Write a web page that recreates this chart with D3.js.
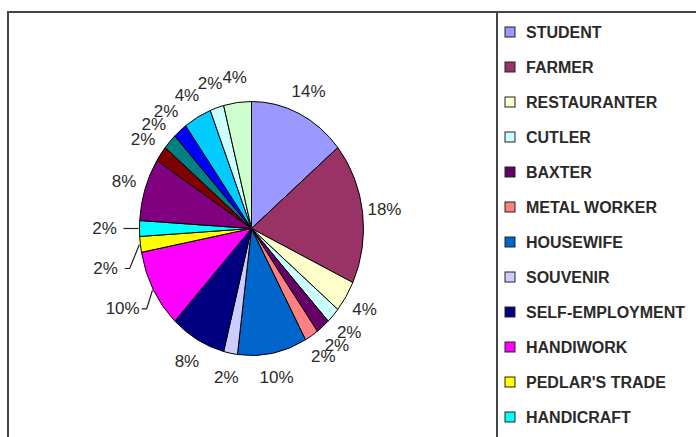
<!DOCTYPE html>
<html>
<head>
<meta charset="utf-8">
<script src="https://cdn.jsdelivr.net/npm/d3@7"></script>
<style>
  body { margin: 0; background: #fff; }
  svg { display: block; }
</style>
</head>
<body>
<div id="chart"></div>
<script>
// legend names (the rest of the legend is cut off below the picture)
var categories = ["STUDENT", "FARMER", "RESTAURANTER", "CUTLER", "BAXTER", "METAL WORKER",
   "HOUSEWIFE", "SOUVENIR", "SELF-EMPLOYMENT", "HANDIWORK", "PEDLAR'S TRADE", "HANDICRAFT"];

// counts per slice, clockwise from 12 o'clock (out of 50)
var values = [7, 9, 2, 1, 1, 1, 5, 1, 4, 5, 1, 1, 4, 1, 1, 1, 2, 1, 2];

var colors = ["#9999ff", "#993366", "#ffffcc", "#ccffff", "#660066", "#ff8080",
   "#0066cc", "#ccccff", "#000080", "#ff00ff", "#ffff00", "#00ffff",
   "#800080", "#800000", "#008080", "#0000ff", "#00ccff", "#ccffff", "#ccffcc"];

// slices whose labels were pulled out with a leader line
var leaderSlices = [9, 10, 11];

var width = 696;
var height = 437;

var cx = 251.5, cy = 228.5;
var rx = 112, ry = 127;
var sy = ry / rx;

var svg = d3.select("#chart")
   .append("svg")
   .attr("width", width)
   .attr("height", height);

// chart frame (bottom and right edge are cropped off)
svg.append("rect")
   .attr("x", 8).attr("y", 12)
   .attr("width", width + 10).attr("height", height + 10)
   .attr("fill", "#fff")
   .attr("stroke", "#444")
   .attr("stroke-width", 2);

svg.append("line")
   .attr("x1", 497).attr("x2", 497)
   .attr("y1", 12).attr("y2", height + 5)
   .attr("stroke", "#444")
   .attr("stroke-width", 2);

var total = d3.sum(values);

var pie = d3.pie()
   .sort(null)
   .value(function (d) { return d; });

var arcs = pie(values);

var arc = d3.arc()
   .innerRadius(0)
   .outerRadius(rx);

var pieG = svg.append("g")
   .attr("transform", "translate(" + cx + "," + cy + ") scale(1," + sy + ")");

pieG.selectAll("path")
   .data(arcs)
   .enter().append("path")
   .attr("d", arc)
   .attr("fill", function (d, i) { return colors[i]; })
   .attr("stroke", "#000")
   .attr("stroke-width", 1)
   .attr("vector-effect", "non-scaling-stroke");

// position on the (squashed) ellipse for a given angle and radius
function pt(a, r) {
   return [cx + r * Math.sin(a), cy - r * Math.cos(a) * sy];
}

var labels = arcs.map(function (d, i) {
   var mid = (d.startAngle + d.endAngle) / 2;
   var lead = leaderSlices.indexOf(i) >= 0;
   var p = pt(mid, lead ? rx + 35 : rx + 22);
   return {
      i: i,
      mid: mid,
      lead: lead,
      x: p[0],
      y: p[1],
      text: Math.round(d.data / total * 100) + "%"
   };
});

// push the leader labels apart vertically
var led = labels.filter(function (l) { return l.lead; })
   .sort(function (a, b) { return a.y - b.y; });
for (var k = 1; k < led.length; k++) {
   if (led[k].y - led[k - 1].y < 40) led[k].y = led[k - 1].y + 40;
}

var labelG = svg.append("g")
   .attr("font-family", "Arial, 'Liberation Sans', sans-serif")
   .attr("font-size", 17)
   .attr("fill", "#2a2a2a");

labelG.selectAll("text")
   .data(labels)
   .enter().append("text")
   .attr("x", function (d) { return d.x; })
   .attr("y", function (d) { return d.y; })
   .attr("text-anchor", "middle")
   .attr("dominant-baseline", "central")
   .text(function (d) { return d.text; });

// leader lines
labelG.selectAll("polyline")
   .data(led)
   .enter().append("polyline")
   .attr("fill", "none")
   .attr("stroke", "#222")
   .attr("stroke-width", 1.2)
   .attr("points", function (d) {
      var x0 = d.x + 19;
      var edge = pt(d.mid, rx + 1);
      return [[x0, d.y], [x0 + 5, d.y], edge].map(function (p) { return p.join(","); }).join(" ");
   });

// legend
var legend = svg.append("g")
   .attr("font-family", "Arial, 'Liberation Sans', sans-serif")
   .attr("font-size", 16)
   .attr("font-weight", "bold")
   .attr("fill", "#2a2a2a");

var item = legend.selectAll("g")
   .data(categories)
   .enter().append("g")
   .attr("transform", function (d, i) { return "translate(505," + (32 + i * 35) + ")"; });

item.append("rect")
   .attr("x", 0).attr("y", -5)
   .attr("width", 10).attr("height", 10)
   .attr("fill", function (d, i) { return colors[i]; })
   .attr("stroke", "#222")
   .attr("stroke-width", 1);

item.append("text")
   .attr("x", 21)
   .attr("y", 0)
   .attr("dominant-baseline", "central")
   .text(function (d) { return d; });
</script>
</body>
</html>
